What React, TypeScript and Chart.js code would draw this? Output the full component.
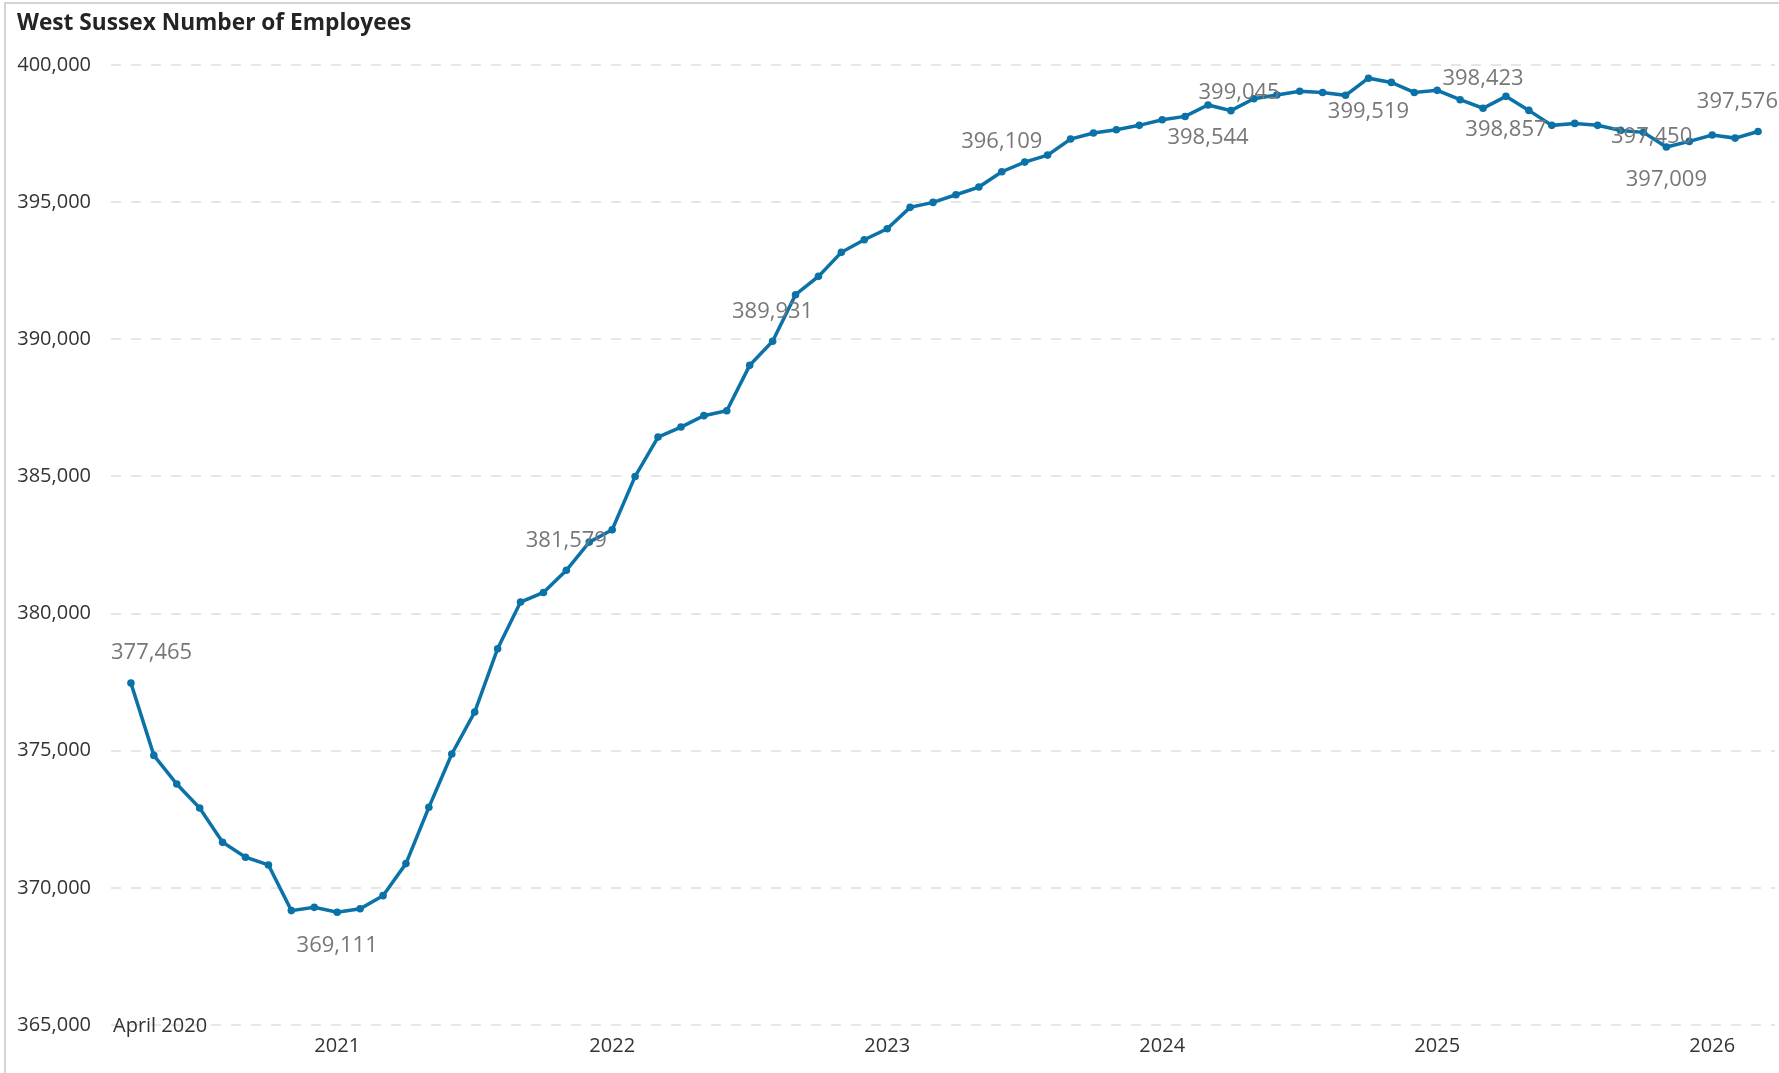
import React, { useEffect, useRef } from 'react';
import { Chart, registerables } from 'chart.js';

Chart.register(...registerables);

// ---- data ----
const months = [
  'Apr 2020', 'May 2020', 'Jun 2020', 'Jul 2020', 'Aug 2020', 'Sep 2020', 'Oct 2020', 'Nov 2020', 'Dec 2020',
  'Jan 2021', 'Feb 2021', 'Mar 2021', 'Apr 2021', 'May 2021', 'Jun 2021', 'Jul 2021', 'Aug 2021', 'Sep 2021', 'Oct 2021', 'Nov 2021', 'Dec 2021',
  'Jan 2022', 'Feb 2022', 'Mar 2022', 'Apr 2022', 'May 2022', 'Jun 2022', 'Jul 2022', 'Aug 2022', 'Sep 2022', 'Oct 2022', 'Nov 2022', 'Dec 2022',
  'Jan 2023', 'Feb 2023', 'Mar 2023', 'Apr 2023', 'May 2023', 'Jun 2023', 'Jul 2023', 'Aug 2023', 'Sep 2023', 'Oct 2023', 'Nov 2023', 'Dec 2023',
  'Jan 2024', 'Feb 2024', 'Mar 2024', 'Apr 2024', 'May 2024', 'Jun 2024', 'Jul 2024', 'Aug 2024', 'Sep 2024', 'Oct 2024', 'Nov 2024', 'Dec 2024',
  'Jan 2025', 'Feb 2025', 'Mar 2025', 'Apr 2025', 'May 2025', 'Jun 2025', 'Jul 2025', 'Aug 2025', 'Sep 2025', 'Oct 2025', 'Nov 2025', 'Dec 2025',
  'Jan 2026', 'Feb 2026', 'Mar 2026',
];

const employees = [
  377465, 374830, 373785, 372910, 371660, 371115, 370835, 369170, 369290,
  369111, 369240, 369715, 370885, 372935, 374880, 376410, 378720, 380420, 380770, 381579, 382605,
  383055, 385000, 386435, 386800, 387215, 387395, 389050, 389931, 391625, 392295, 393170, 393630,
  394030, 394810, 394990, 395270, 395550, 396109, 396460, 396715, 397300, 397520, 397640, 397800,
  398005, 398125, 398544, 398335, 398770, 398905, 399045, 399000, 398895, 399519, 399365, 399000,
  399075, 398735, 398423, 398857, 398345, 397800, 397870, 397800, 397615, 397545, 397009, 397215,
  397450, 397335, 397576,
];

// points that carry a data label, and where the label sits
const labelIdx = [0, 9, 19, 28, 38, 47, 51, 54, 59, 60, 67, 69, 71];
const labelPlace = ['above', 'below', 'above', 'above', 'above', 'below', 'left', 'below', 'above', 'below', 'below', 'left', 'above'];

// x-axis labels
const xTickIdx = [0, 9, 21, 33, 45, 57, 69];
const xTickText = ['April 2020', '2021', '2022', '2023', '2024', '2025', '2026'];

// y-axis
const yMin = 365000;
const yMax = 400000;
const yStep = 5000;

const TITLE = 'West Sussex Number of Employees';

// ---- styles ----
const FONT = '"Open Sans", "Noto Sans", sans-serif';
const LINE_COLOR = '#0B72A8';
const fmt = (v: number) => v.toLocaleString('en-US');

const decorPlugin = {
  id: 'decor',
  beforeDraw(chart: any) {
    const ctx = chart.ctx as CanvasRenderingContext2D;
    ctx.save();
    ctx.fillStyle = '#ffffff';
    ctx.fillRect(0, 0, chart.width, chart.height);
    // visual frame
    ctx.strokeStyle = '#D4D4D4';
    ctx.lineWidth = 2;
    ctx.beginPath();
    ctx.moveTo(5, chart.height + 2);
    ctx.lineTo(5, 3);
    ctx.lineTo(chart.width + 2, 3);
    ctx.stroke();
    // title
    ctx.fillStyle = '#252423';
    ctx.font = `bold 22.7px ${FONT}`;
    ctx.textAlign = 'left';
    ctx.textBaseline = 'alphabetic';
    ctx.fillText(TITLE, 17, 30);
    ctx.restore();
  },
  afterDraw(chart: any) {
    const ctx = chart.ctx as CanvasRenderingContext2D;
    const area = chart.chartArea;
    const xs = chart.scales.x;
    ctx.save();
    ctx.textBaseline = 'alphabetic';
    // x labels
    const xSize = 20;
    ctx.font = `${xSize}px ${FONT}`;
    ctx.fillStyle = '#333333';
    xTickIdx.forEach((idx, k) => {
      if (k === 0) {
        ctx.textAlign = 'left';
        ctx.fillText(xTickText[k], area.left + 2, area.bottom + 0.357 * xSize);
      } else {
        ctx.textAlign = 'center';
        ctx.fillText(xTickText[k], xs.getPixelForValue(idx), area.bottom + 20 + 0.357 * xSize);
      }
    });
    // data labels
    const meta = chart.getDatasetMeta(0);
    const lSize = 22;
    ctx.font = `${lSize}px ${FONT}`;
    ctx.fillStyle = '#777777';
    ctx.textAlign = 'center';
    labelIdx.forEach((idx, k) => {
      const pt = meta.data[idx];
      if (!pt) return;
      const text = fmt(employees[idx]);
      const w = ctx.measureText(text).width;
      const place = labelPlace[k];
      let cx = pt.x;
      let cy = pt.y;
      if (place === 'left') {
        cx = pt.x - 20 - w / 2;
      } else {
        cx = Math.min(Math.max(pt.x, area.left + w / 2), area.right + 3 - w / 2);
        cy = pt.y + (place === 'above' ? -31.5 : 31.5);
      }
      ctx.fillText(text, cx, cy + 0.357 * lSize);
    });
    ctx.restore();
  },
};

export default function App() {
  const canvasRef = useRef<HTMLCanvasElement | null>(null);

  useEffect(() => {
    let chart: Chart | null = null;
    let cancelled = false;
    const build = () => {
      if (cancelled || !canvasRef.current) return;
      chart = new Chart(canvasRef.current, {
        type: 'line',
        data: {
          labels: months,
          datasets: [
            {
              label: 'Number of Employees',
              data: employees.map((v, i) => ({ x: i, y: v })),
              borderColor: LINE_COLOR,
              backgroundColor: LINE_COLOR,
              borderWidth: 3.5,
              pointRadius: 3.8,
              pointBackgroundColor: LINE_COLOR,
              pointBorderWidth: 0,
              tension: 0,
              clip: false as any,
            },
          ],
        },
        options: {
          responsive: false,
          animation: false,
          layout: { padding: { top: 65, bottom: 48, left: 0, right: 0 } },
          plugins: {
            legend: { display: false },
            tooltip: { enabled: false },
            title: { display: false },
          },
          scales: {
            x: {
              type: 'linear',
              display: false,
              min: -0.87,
              max: 71.74,
            },
            y: {
              min: yMin,
              max: yMax,
              ticks: {
                stepSize: yStep,
                color: '#333333',
                padding: 20,
                font: { family: FONT, size: 20 },
                callback: (v: any) => fmt(Number(v)),
              },
              grid: { color: '#E6E6E6', lineWidth: 2, drawTicks: false },
              border: { display: false, dash: [10, 10] },
              afterFit: (s: any) => {
                s.width = 111;
              },
            },
          },
        },
        plugins: [decorPlugin],
      } as any);
    };
    const fonts: any = (document as any).fonts;
    if (fonts && fonts.load) {
      Promise.all([
        fonts.load(`20px "Open Sans"`),
        fonts.load(`bold 22.7px "Open Sans"`),
      ]).then(build, build);
    } else {
      build();
    }
    return () => {
      cancelled = true;
      if (chart) chart.destroy();
    };
  }, []);

  return (
    <div style={{ position: 'fixed', left: 0, top: 0, width: 1779, height: 1073, background: '#fff', overflow: 'hidden' }}>
      <canvas ref={canvasRef} width={1779} height={1073} style={{ display: 'block' }} />
    </div>
  );
}
